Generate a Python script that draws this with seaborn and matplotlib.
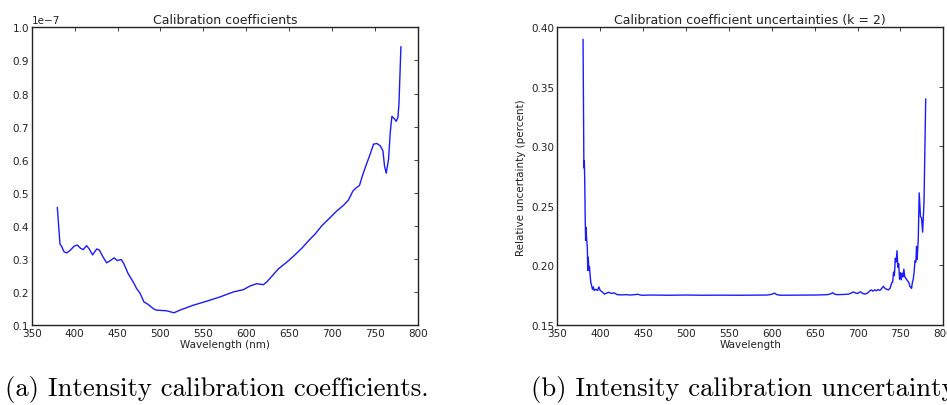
import numpy as np
import pandas as pd
import matplotlib
matplotlib.use("Agg")
import matplotlib.pyplot as plt
import seaborn as sns

# ---------------- data ----------------
coef_scale = 1e-7
coef_wl = [379.8, 382.9, 384.8, 387.5, 390.6, 394.5, 399.2, 403.0, 406.9, 410.0,
           413.9, 417.0, 420.9, 425.6, 428.7, 432.6, 437.2, 441.1, 446.1, 449.6,
           454.3, 457.4, 462.4, 468.3, 472.2, 476.0, 480.7, 485.8, 492.4, 495.5,
           507.2, 515.7, 522.7, 538.3, 553.8, 569.4, 584.9, 596.6, 604.3, 612.1,
           619.9, 623.8, 637.4, 647.1, 654.9, 664.6, 674.3, 680.1, 687.9, 695.7,
           705.4, 713.2, 719.0, 724.1, 728.0, 731.8, 734.6, 738.5, 744.3, 748.2,
           752.1, 756.0, 759.1, 761.0, 763.0, 765.7, 767.7, 769.6, 772.7, 774.6,
           776.6, 777.8, 780.1]
coef_val = [0.456, 0.345, 0.338, 0.322, 0.318, 0.325, 0.338, 0.342, 0.332, 0.328,
            0.340, 0.330, 0.312, 0.330, 0.327, 0.308, 0.288, 0.294, 0.303, 0.295,
            0.298, 0.285, 0.255, 0.230, 0.210, 0.197, 0.170, 0.162, 0.148, 0.145,
            0.143, 0.137, 0.145, 0.160, 0.172, 0.185, 0.200, 0.207, 0.218, 0.225,
            0.222, 0.230, 0.270, 0.290, 0.308, 0.332, 0.360, 0.375, 0.400, 0.420,
            0.445, 0.462, 0.478, 0.505, 0.515, 0.522, 0.546, 0.576, 0.617, 0.647,
            0.649, 0.642, 0.627, 0.581, 0.559, 0.602, 0.683, 0.731, 0.723, 0.716,
            0.728, 0.768, 0.942]

unc_wl = [380.0, 381.0, 381.5, 382.0, 382.5, 383.0, 383.5, 384.0, 385.0, 385.5,
          386.0, 387.0, 387.5, 388.0, 389.0, 390.0, 391.0, 392.0, 393.0, 395.0,
          397.0, 398.5, 400.0, 402.0, 405.0, 408.0, 410.0, 413.0, 416.0, 420.0,
          425.0, 430.0, 435.0, 440.0, 444.0, 448.0, 460.0, 480.0, 500.0, 520.0,
          540.0, 560.0, 580.0, 595.0, 600.0, 603.0, 606.0, 610.0, 630.0, 650.0,
          665.0, 669.0, 671.0, 673.0, 676.0, 685.0, 690.0, 693.0, 695.0, 698.0,
          700.0, 702.0, 704.0, 706.0, 709.0, 712.0, 714.0, 716.0, 718.0, 720.0,
          722.0, 724.0, 726.0, 728.0, 730.0, 732.0, 734.0, 736.0, 738.0, 740.0,
          741.0, 742.0, 743.0, 744.0, 745.0, 746.0, 747.0, 748.0, 749.0, 750.0,
          751.0, 752.0, 753.0, 754.0, 755.0, 756.0, 758.0, 760.0, 761.0, 762.0,
          763.0, 764.0, 765.0, 766.0, 767.0, 768.0, 768.8, 769.5, 770.8, 771.9,
          773.4, 774.6, 775.9, 777.5, 779.5]
unc_val = [0.390, 0.282, 0.288, 0.270, 0.240, 0.221, 0.232, 0.224, 0.215, 0.196,
           0.207, 0.196, 0.199, 0.194, 0.186, 0.183, 0.180, 0.182, 0.179, 0.180,
           0.179, 0.182, 0.179, 0.178, 0.176, 0.177, 0.1775, 0.1765, 0.177, 0.1755,
           0.1753, 0.1755, 0.1752, 0.1755, 0.1758, 0.1750, 0.1752, 0.1750, 0.1752, 0.1750,
           0.1751, 0.1750, 0.1751, 0.1752, 0.1758, 0.1768, 0.1755, 0.1750, 0.1751, 0.1752,
           0.1755, 0.1762, 0.1772, 0.1760, 0.1755, 0.1757, 0.1760, 0.1770, 0.1778, 0.1768,
           0.1765, 0.1775, 0.1778, 0.1765, 0.1760, 0.1770, 0.1785, 0.1795, 0.1785, 0.1795,
           0.1788, 0.1798, 0.1790, 0.1805, 0.1825, 0.1808, 0.1800, 0.1795, 0.1810, 0.1858,
           0.1860, 0.1945, 0.1915, 0.2060, 0.2030, 0.2124, 0.1985, 0.2015, 0.1885, 0.1940,
           0.1880, 0.1935, 0.1905, 0.1970, 0.1905, 0.1895, 0.1875, 0.1855, 0.1825, 0.1818,
           0.1808, 0.1860, 0.1885, 0.1950, 0.2040, 0.2030, 0.2160, 0.2050, 0.2220, 0.2610,
           0.2410, 0.2400, 0.2280, 0.2530, 0.3400]

xlim = (350, 800)
xticks = [350, 400, 450, 500, 550, 600, 650, 700, 750, 800]
coef_ylim = (0.1, 1.0)
unc_ylim = (0.15, 0.40)
unc_yticks = [0.15, 0.20, 0.25, 0.30, 0.35, 0.40]

title_a = "Calibration coefficients"
title_b = "Calibration coefficient uncertainties (k = 2)"
xlabel_a = "Wavelength (nm)"
xlabel_b = "Wavelength"
ylabel_b = "Relative uncertainty (percent)"
caption_a = "(a) Intensity calibration coefficients."
caption_b = "(b) Intensity calibration uncertainty"

# ---------------- style ----------------
sns.set_style("white")
plt.rcParams.update({
    "font.family": ["DejaVu Sans"],
    "axes.edgecolor": "#222222",
    "axes.linewidth": 1.0,
    "xtick.direction": "in",
    "ytick.direction": "in",
    "xtick.top": True,
    "ytick.right": True,
    "xtick.major.size": 3,
    "ytick.major.size": 3,
    "xtick.major.width": 0.6,
    "ytick.major.width": 0.6,
    "xtick.color": "#222222",
    "ytick.color": "#222222",
    "text.color": "#222222",
    "axes.labelcolor": "#222222",
    "axes.unicode_minus": True,
})

fig = plt.figure(figsize=(9.47, 4.06), dpi=100)
ax1 = fig.add_axes([0.0335, 0.197, 0.4079, 0.733])
ax2 = fig.add_axes([0.5885, 0.197, 0.4076, 0.733])

df_a = pd.DataFrame({"wl": coef_wl, "val": np.array(coef_val) * coef_scale})
df_b = pd.DataFrame({"wl": unc_wl, "val": unc_val})

sns.lineplot(data=df_a, x="wl", y="val", ax=ax1, color="#1a1aff", lw=1.0,
             estimator=None, sort=False)
sns.lineplot(data=df_b, x="wl", y="val", ax=ax2, color="#1a1aff", lw=1.0,
             estimator=None, sort=False)

tick_fs = 7.5
for ax in (ax1, ax2):
    ax.set_xlim(*xlim)
    ax.set_xticks(xticks)
    ax.tick_params(labelsize=tick_fs, pad=2)
    for s in ax.spines.values():
        s.set_visible(True)

ax1.set_ylim(coef_ylim[0] * coef_scale, coef_ylim[1] * coef_scale)
ax1.set_yticks(np.arange(1, 11) * 0.1 * coef_scale)
ax1.yaxis.get_offset_text().set_fontsize(tick_fs)
ax1.set_title(title_a, fontsize=9, pad=3)
ax1.set_xlabel(xlabel_a, fontsize=7.5, labelpad=1)
ax1.set_ylabel("")

ax2.set_ylim(*unc_ylim)
ax2.set_yticks(unc_yticks)
ax2.set_yticklabels([f"{v:.2f}" for v in unc_yticks])
ax2.set_title(title_b, fontsize=9, pad=3)
ax2.set_xlabel(xlabel_b, fontsize=7.5, labelpad=1)
ax2.set_ylabel(ylabel_b, fontsize=7.5, labelpad=4)

fig.text(0.005, 0.025, caption_a, family=["cmr10", "DejaVu Serif"], fontsize=19.2,
         color="black", va="baseline")
fig.text(0.561, 0.025, caption_b, family=["cmr10", "DejaVu Serif"], fontsize=19.2,
         color="black", va="baseline")

fig.savefig("out.png", dpi=100)
